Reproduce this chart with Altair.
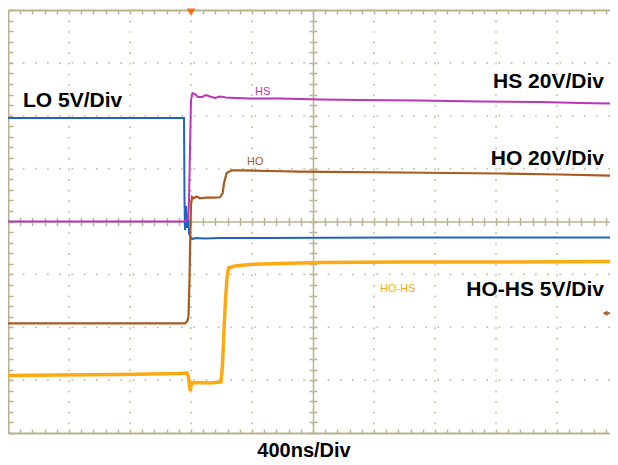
import altair as alt
import pandas as pd

# Oscilloscope capture: 400 ns/div over 10 divisions (0..4000 ns),
# vertical position in screen divisions (-4..+4, 8 divisions)
LO_T = [0, 1154.1, 1157.4, 1160.7, 1167.2, 1173.8, 1180.3, 1186.9, 1193.4, 1206.6,
        1232.8, 1291.8, 1390.2, 1652.5, 2570.5, 3226.2, 4000]
LO_V = [1.957, 1.957, 0.407, -0.161, 0.293, -0.123, 0.142, -0.217, -0.274, -0.331,
        -0.312, -0.322, -0.312, -0.312, -0.303, -0.303, -0.303]

HS_T = [0, 1154.1, 1167.2, 1180.3, 1186.9, 1193.4, 1200.0, 1209.8, 1226.2, 1245.9,
        1272.1, 1298.4, 1324.6, 1357.4, 1390.2, 1429.5, 1488.5, 1586.9, 1783.6, 2045.9,
        2308.2, 2701.6, 3095.1, 3488.5, 3750.8, 4000]
HS_V = [0.0, 0.0, 0.01, 0.047, 0.407, 1.352, 2.298, 2.430, 2.411, 2.355,
        2.355, 2.392, 2.364, 2.336, 2.364, 2.345, 2.336, 2.326, 2.326, 2.307,
        2.298, 2.288, 2.270, 2.260, 2.241, 2.232]

HO_T = [0, 1160.7, 1177.0, 1183.6, 1190.2, 1194.8, 1200.0, 1206.6, 1215.1, 1237.4,
        1259.0, 1302.9, 1344.3, 1390.2, 1407.9, 1416.4, 1434.1, 1466.9, 1521.3, 1718.0,
        1914.8, 2570.5, 3226.2, 3619.7, 4000]
HO_V = [-1.925, -1.925, -1.882, -1.787, -1.106, -0.350, 0.312, 0.463, 0.439, 0.473,
        0.439, 0.454, 0.450, 0.458, 0.539, 0.728, 0.917, 0.968, 0.968, 0.955,
        0.942, 0.927, 0.908, 0.889, 0.866]

HOHS_T = [0, 341.0, 734.4, 1127.9, 1173.8, 1183.6, 1190.2, 1195.4, 1203.3, 1259.0,
          1324.6, 1396.7, 1406.6, 1416.4, 1426.2, 1436.1, 1445.9, 1488.5, 1586.9, 1783.6,
          2045.9, 2570.5, 3226.2, 4000]
HOHS_V = [-2.913, -2.903, -2.894, -2.875, -2.865, -2.941, -3.111, -3.206, -3.054, -3.045,
          -3.054, -3.035, -2.714, -2.052, -1.485, -1.069, -0.879, -0.842, -0.813, -0.794,
          -0.775, -0.766, -0.766, -0.757]

# graticule
MAJOR_T = [400, 800, 1200, 1600, 2000, 2400, 2800, 3200, 3600]
MAJOR_V = [-3, -2, -1, 1, 2, 3]
MINOR_T = list(range(0, 4001, 80))
MINOR_V = [round(k * 0.2, 1) for k in range(-20, 21)]

# annotations
BIG_RIGHT = ["HS 20V/Div", "HO 20V/Div", "HO-HS 5V/Div"]
BIG_RIGHT_V = [2.519, 1.069, -1.409]

WP, H = 610, 423      # graticule size in pixels
WV = 602              # visible view width (page is 618 wide with 8px margins)
XS = alt.Scale(domain=[0, 4000], range=[0, WP], nice=False, zero=False)
YS = alt.Scale(domain=[-4, 4], nice=False, zero=False)
GRID_C = "#c6be9e"
FRAME_C = "#bab290"

C_LO = "#2063c6"
C_HS = "#bb35bb"
C_HO = "#a95a1f"
C_HOHS = "#fbaa14"

anchor = pd.DataFrame({"t": [0], "v": [0]})


def ax(**kw):
    base = dict(labels=False, title=None, grid=False, domain=False, ticks=False)
    base.update(kw)
    return alt.Axis(**base)


def axis_layer(xaxis, yaxis):
    return alt.Chart(anchor).mark_point(opacity=0).encode(
        x=alt.X("t:Q", scale=XS, axis=xaxis),
        y=alt.Y("v:Q", scale=YS, axis=yaxis),
    )


vgrid = alt.Chart(pd.DataFrame({"t": MAJOR_T})).mark_rule(
    color=GRID_C, strokeWidth=1.7, strokeDash=[1.7, 8.875]
).encode(x=alt.X("t:Q", scale=XS, axis=None))
hgrid = alt.Chart(pd.DataFrame({"v": MAJOR_V})).mark_rule(
    color=GRID_C, strokeWidth=1.7, strokeDash=[1.7, 10.5]
).encode(y=alt.Y("v:Q", scale=YS, axis=None))

frame1 = axis_layer(
    ax(orient="bottom", offset=-H, values=MINOR_T, domain=True, domainColor=FRAME_C,
       domainWidth=2, ticks=True, tickColor=FRAME_C, tickWidth=1.5, tickSize=4),
    ax(orient="right", offset=-WV, values=MINOR_V, domain=True, domainColor=FRAME_C,
       domainWidth=2, ticks=True, tickColor=FRAME_C, tickWidth=1.5, tickSize=5),
)
frame2 = axis_layer(
    ax(orient="top", offset=-H, values=MINOR_T, domain=True, domainColor=FRAME_C,
       domainWidth=2, ticks=True, tickColor=FRAME_C, tickWidth=1.5, tickSize=4),
    ax(orient="left", offset=-WP, values=MINOR_V, domain=True, domainColor=FRAME_C,
       domainWidth=2, ticks=True, tickColor=FRAME_C, tickWidth=1.5, tickSize=5),
)
center_ticks = axis_layer(
    ax(orient="bottom", offset=-(H / 2 + 4), values=MINOR_T, ticks=True,
       tickColor=FRAME_C, tickWidth=1.5, tickSize=8),
    ax(orient="right", offset=-(WV - WP / 2 + 4), values=MINOR_V, ticks=True,
       tickColor=FRAME_C, tickWidth=1.5, tickSize=8),
)
center_lines = axis_layer(
    ax(orient="bottom", offset=-H / 2, domain=True, domainColor=FRAME_C, domainWidth=1.5),
    ax(orient="left", offset=-WP / 2, domain=True, domainColor=FRAME_C, domainWidth=1.5),
)


def trace(t, v, color, width):
    df = pd.DataFrame({"t": t, "v": v, "i": list(range(len(t)))})
    return alt.Chart(df).mark_line(color=color, strokeWidth=width).encode(
        x=alt.X("t:Q", scale=XS, axis=None),
        y=alt.Y("v:Q", scale=YS, axis=None),
        order="i:Q",
    )


def label(text, t, v, color, size, weight, align, font="Liberation Sans"):
    df = pd.DataFrame({"t": [t], "v": [v], "label": [text]})
    return alt.Chart(df).mark_text(
        color=color, fontSize=size, fontWeight=weight, align=align,
        baseline="alphabetic", font=font,
    ).encode(
        x=alt.X("t:Q", scale=XS, axis=None),
        y=alt.Y("v:Q", scale=YS, axis=None),
        text="label:N",
    )


big_df = pd.DataFrame({"t": [3908.0] * 3, "v": BIG_RIGHT_V, "label": BIG_RIGHT})
big_right = alt.Chart(big_df).mark_text(
    color="black", fontSize=21, fontWeight="bold", align="right",
    baseline="alphabetic", font="Liberation Sans",
).encode(
    x=alt.X("t:Q", scale=XS, axis=None),
    y=alt.Y("v:Q", scale=YS, axis=None),
    text="label:N",
)

trig_df = pd.DataFrame({"t": [1200.0], "v": [3.962]})
trigger = alt.Chart(trig_df).mark_point(
    shape="triangle-down", filled=True, color="#ff6a13", size=70, opacity=1
).encode(
    x=alt.X("t:Q", scale=XS, axis=None),
    y=alt.Y("v:Q", scale=YS, axis=None),
)

# HO trigger-level arrow at the right edge
arrow_df = pd.DataFrame({"t": [3915.0], "t2": [4000.0], "v": [-1.735]})
arrow_shaft = alt.Chart(arrow_df).mark_rule(color=C_HO, strokeWidth=2).encode(
    x=alt.X("t:Q", scale=XS, axis=None), x2="t2:Q",
    y=alt.Y("v:Q", scale=YS, axis=None),
)
arrow_head = alt.Chart(arrow_df).mark_point(
    shape="triangle-left", filled=True, color=C_HO, size=30, opacity=1
).encode(
    x=alt.X("t:Q", scale=XS, axis=None),
    y=alt.Y("v:Q", scale=YS, axis=None),
)

chart = alt.layer(
    vgrid, hgrid, frame1, frame2, center_ticks, center_lines,
    trace(LO_T, LO_V, C_LO, 2),
    trace(HS_T, HS_V, C_HS, 2),
    trace(HO_T, HO_V, C_HO, 2.2),
    trace(HOHS_T, HOHS_V, C_HOHS, 3.5),
    big_right,
    label("LO 5V/Div", 98.4, 2.165, "black", 21, "bold", "left"),
    label("400ns/Div", 1941.0, -4.45, "black", 20, "bold", "center"),
    label("HS", 1619.7, 2.392, C_HS, 11, "normal", "left"),
    label("HO", 1567.2, 1.069, C_HO, 11, "normal", "left"),
    label("HO-HS", 2439.3, -1.333, C_HOHS, 11, "normal", "left"),
    arrow_shaft, arrow_head,
    trigger,
).resolve_axis(
    x="independent", y="independent"
).properties(
    width=WV, height=H,
    autosize=alt.AutoSizeParams(type="none"),
    padding={"left": 0, "top": 2, "right": 0, "bottom": 31},
    background="white",
).configure_view(stroke=None)

chart.save("out.html", embed_options={"renderer": "svg", "actions": False})
